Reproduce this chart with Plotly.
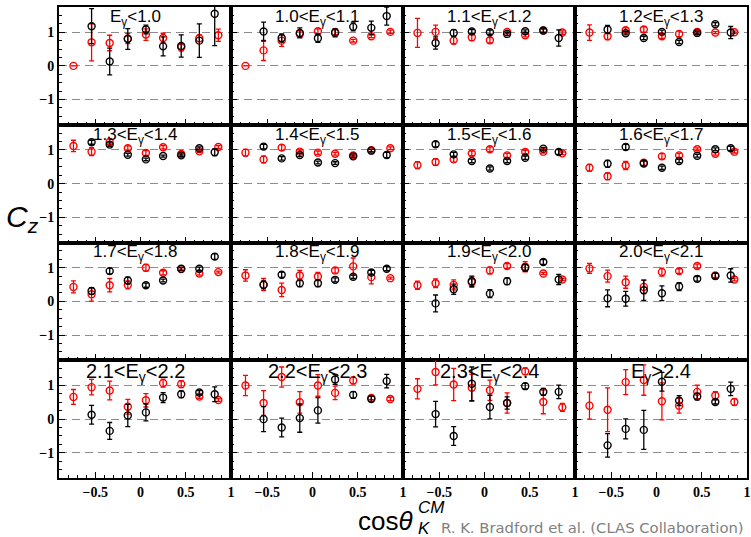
import plotly.graph_objects as go

# ---------------- data ----------------
energy_labels = ["E<sub>γ</sub><1.0", "1.0<E<sub>γ</sub><1.1", "1.1<E<sub>γ</sub><1.2", "1.2<E<sub>γ</sub><1.3",
                 "1.3<E<sub>γ</sub><1.4", "1.4<E<sub>γ</sub><1.5", "1.5<E<sub>γ</sub><1.6", "1.6<E<sub>γ</sub><1.7",
                 "1.7<E<sub>γ</sub><1.8", "1.8<E<sub>γ</sub><1.9", "1.9<E<sub>γ</sub><2.0", "2.0<E<sub>γ</sub><2.1",
                 "2.1<E<sub>γ</sub><2.2", "2.2<E<sub>γ</sub><2.3", "2.3<E<sub>γ</sub><2.4", "E<sub>γ</sub>>2.4"]

cos_red = [-0.74, -0.54, -0.34, -0.14, 0.06, 0.25, 0.45, 0.65, 0.86]
cos_black = [-0.54, -0.34, -0.14, 0.06, 0.25, 0.45, 0.65, 0.82]

red_cz = [
    [0.00, 0.70, 0.68, 0.81, 0.93, 0.83, 0.55, 0.82, 0.91],
    [0.00, 0.46, 0.75, 0.95, 1.03, 1.01, 0.75, 0.88, 1.01],
    [0.98, 1.01, 0.75, 0.85, 0.76, 1.01, 0.91, 1.05, 0.99],
    [0.99, 0.88, 1.06, 1.08, 0.88, 0.95, 1.01, 0.99, 1.00],
    [1.12, 0.95, 1.24, 1.05, 0.91, 1.08, 0.88, 0.96, 1.09],
    [0.92, 0.72, 1.07, 0.95, 0.92, 0.89, 0.84, 0.99, 1.05],
    [0.55, 0.64, 0.72, 0.90, 1.02, 0.84, 0.94, 0.95, 0.90],
    [0.47, 0.22, 0.54, 0.62, 0.81, 0.84, 1.02, 0.89, 0.95],
    [0.43, 0.21, 0.48, 0.49, 1.00, 0.85, 0.96, 0.83, 0.87],
    [0.77, 0.50, 0.34, 0.77, 0.74, 0.92, 1.04, 0.72, 0.69],
    [0.48, 0.54, 0.49, 0.57, 0.92, 1.05, 1.03, 0.83, 0.65],
    [0.98, 0.75, 0.57, 0.43, 0.87, 0.90, 1.05, 0.77, 0.65],
    [0.66, 0.95, 0.85, 0.37, 0.56, 1.07, 1.04, 0.67, 0.57],
    [1.00, 0.48, 1.25, 0.50, 1.00, 0.78, 1.15, 0.63, 0.60],
    [0.90, 1.40, 1.03, 0.93, 0.86, 0.48, 1.42, 0.51, 0.35],
    [0.40, 0.28, 1.10, 1.16, 0.53, 0.40, 0.81, 0.70, 0.51],
]
red_err = [
    [0.00, 0.55, 0.23, 0.15, 0.17, 0.14, 0.10, 0.10, 0.18],
    [0.00, 0.30, 0.17, 0.10, 0.07, 0.08, 0.04, 0.04, 0.05],
    [0.43, 0.20, 0.10, 0.10, 0.08, 0.05, 0.05, 0.04, 0.05],
    [0.23, 0.10, 0.07, 0.08, 0.06, 0.08, 0.04, 0.03, 0.03],
    [0.17, 0.12, 0.08, 0.07, 0.07, 0.05, 0.05, 0.04, 0.04],
    [0.10, 0.10, 0.08, 0.05, 0.05, 0.04, 0.04, 0.04, 0.04],
    [0.10, 0.10, 0.08, 0.07, 0.07, 0.06, 0.05, 0.04, 0.04],
    [0.10, 0.10, 0.12, 0.08, 0.08, 0.06, 0.04, 0.04, 0.04],
    [0.18, 0.20, 0.20, 0.12, 0.10, 0.06, 0.04, 0.05, 0.03],
    [0.17, 0.18, 0.20, 0.15, 0.12, 0.08, 0.25, 0.20, 0.03],
    [0.12, 0.13, 0.15, 0.15, 0.10, 0.07, 0.15, 0.03, 0.03],
    [0.15, 0.18, 0.18, 0.20, 0.12, 0.07, 0.06, 0.06, 0.04],
    [0.22, 0.23, 0.28, 0.22, 0.20, 0.12, 0.10, 0.05, 0.04],
    [0.30, 0.37, 0.30, 0.32, 0.32, 0.20, 0.10, 0.05, 0.05],
    [0.30, 0.38, 0.48, 0.40, 0.30, 0.30, 0.10, 0.35, 0.12],
    [0.40, 0.65, 0.37, 0.45, 0.55, 0.22, 0.20, 0.12, 0.10],
]

black_cz = [
    [1.18, 0.13, 0.80, 1.08, 0.58, 0.59, 0.75, 1.55],
    [1.02, 0.83, 0.98, 0.82, 0.98, 1.16, 1.13, 1.48],
    [0.68, 0.98, 1.02, 1.00, 0.95, 1.03, 1.05, 0.83],
    [1.08, 0.97, 0.83, 1.01, 0.71, 0.98, 1.24, 0.99],
    [1.23, 1.16, 0.86, 0.72, 0.82, 0.84, 1.05, 0.93],
    [1.10, 0.75, 0.85, 0.63, 0.61, 0.81, 0.98, 0.85],
    [1.17, 0.87, 0.67, 0.45, 0.67, 0.77, 1.04, 0.94],
    [0.59, 1.09, 0.60, 0.47, 0.67, 0.83, 1.02, 1.05],
    [0.31, 0.90, 0.62, 0.48, 0.62, 0.97, 0.97, 1.33],
    [0.49, 0.79, 0.54, 0.54, 0.64, 0.73, 0.86, 0.97],
    [-0.06, 0.36, 0.60, 0.23, 0.60, 1.00, 1.17, 0.65],
    [0.09, 0.08, 0.33, 0.24, 0.44, 0.67, 0.75, 0.77],
    [0.13, -0.35, 0.11, 0.20, 0.64, 0.74, 0.79, 0.74],
    [0.00, -0.25, 0.03, 0.26, 1.18, 0.72, 0.60, 1.13],
    [0.15, -0.50, 1.05, 0.36, 0.48, 0.98, 0.81, 0.81],
    [-0.78, -0.29, -0.32, 1.11, 0.55, 0.67, 0.51, 0.90],
]
black_err = [
    [0.52, 0.40, 0.31, 0.13, 0.28, 0.33, 0.50, 0.95],
    [0.28, 0.12, 0.15, 0.12, 0.12, 0.12, 0.20, 0.27],
    [0.18, 0.10, 0.06, 0.06, 0.05, 0.04, 0.06, 0.24],
    [0.12, 0.05, 0.05, 0.05, 0.05, 0.04, 0.05, 0.18],
    [0.06, 0.05, 0.04, 0.04, 0.03, 0.04, 0.04, 0.10],
    [0.07, 0.05, 0.05, 0.04, 0.04, 0.04, 0.04, 0.08],
    [0.08, 0.06, 0.05, 0.05, 0.05, 0.05, 0.04, 0.07],
    [0.10, 0.08, 0.07, 0.05, 0.05, 0.04, 0.04, 0.06],
    [0.10, 0.08, 0.10, 0.06, 0.04, 0.04, 0.05, 0.08],
    [0.12, 0.08, 0.10, 0.10, 0.06, 0.05, 0.06, 0.06],
    [0.25, 0.15, 0.15, 0.12, 0.10, 0.10, 0.07, 0.15],
    [0.25, 0.22, 0.30, 0.22, 0.12, 0.07, 0.08, 0.20],
    [0.28, 0.25, 0.33, 0.25, 0.15, 0.10, 0.06, 0.22],
    [0.37, 0.28, 0.42, 0.38, 0.15, 0.10, 0.08, 0.20],
    [0.38, 0.28, 0.50, 0.35, 0.18, 0.08, 0.10, 0.20],
    [0.35, 0.30, 0.58, 0.28, 0.15, 0.10, 0.06, 0.20],
]

x_tickvals = [-0.5, 0, 0.5, 1]
x_ticktext = ["\u22120.5", "0", "0.5", "1"]
y_tickvals = [-1, 0, 1]
y_ticktext = ["\u22121", "0", "1"]

# ---------------- layout geometry ----------------
W, H = 751, 537
L, R, T, B = 59, 0, 7, 59
PW = W - L - R
PH = H - T - B
XR = [-0.9, 1.0]
YR = [-1.75, 1.75]

fig = go.Figure()
tick_font = dict(family="Liberation Serif", size=14, color="black", weight="bold")

for i in range(16):
    r, c = divmod(i, 4)
    xa = "x" if i == 0 else f"x{i+1}"
    ya = "y" if i == 0 else f"y{i+1}"
    xkey = "xaxis" if i == 0 else f"xaxis{i+1}"
    ykey = "yaxis" if i == 0 else f"yaxis{i+1}"

    fig.add_trace(go.Scatter(
        x=cos_red, y=red_cz[i], xaxis=xa, yaxis=ya, mode="markers",
        marker=dict(symbol="circle-open", size=7, color="red", line=dict(width=1.4, color="red")),
        error_y=dict(type="data", array=red_err[i], color="red", thickness=1.3, width=2.5),
        showlegend=False, hoverinfo="skip"))
    fig.add_trace(go.Scatter(
        x=cos_black, y=black_cz[i], xaxis=xa, yaxis=ya, mode="markers",
        marker=dict(symbol="circle-open", size=7, color="black", line=dict(width=1.4, color="black")),
        error_y=dict(type="data", array=black_err[i], color="black", thickness=1.3, width=2.5),
        showlegend=False, hoverinfo="skip"))

    fig.layout[xkey] = dict(
        domain=[c / 4, (c + 1) / 4], anchor=ya, range=XR,
        tickmode="array", tickvals=x_tickvals, ticktext=x_ticktext,
        showticklabels=(r == 3), tickfont=tick_font,
        ticks="inside", ticklen=6, tickwidth=1.2, tickcolor="black",
        minor=dict(tickmode="linear", tick0=0, dtick=0.1, ticks="inside", ticklen=3,
                   tickwidth=1, tickcolor="black", showgrid=False),
        showgrid=False, zeroline=False,
        showline=True, mirror=True, linecolor="black", linewidth=1.7)
    fig.layout[ykey] = dict(
        domain=[1 - (r + 1) / 4, 1 - r / 4], anchor=xa, range=YR,
        tickmode="array", tickvals=y_tickvals, ticktext=y_ticktext,
        showticklabels=(c == 0), tickfont=tick_font,
        ticks="inside", ticklen=6, tickwidth=1.2, tickcolor="black",
        minor=dict(tickmode="linear", tick0=0, dtick=0.25, ticks="inside", ticklen=3,
                   tickwidth=1, tickcolor="black", showgrid=False),
        showgrid=True, gridcolor="#8c8c8c", gridwidth=1.3, griddash="8px,5px",
        zeroline=False,
        showline=True, mirror=True, linecolor="black", linewidth=1.7)

    fs = 20 if r == 3 else 17
    fig.add_annotation(
        text=energy_labels[i], xref=xa, yref=ya,
        x=(-0.06 if c == 0 else 0.05), y=(1.40 if r == 3 else 1.43),
        xanchor="center", yanchor="middle", showarrow=False,
        font=dict(family="Liberation Sans", size=fs, color="black"))

def px_x(p):
    return (p - L) / PW

def px_y(p):
    return (H - B - p) / PH

# y-axis title
fig.add_annotation(text="<i>C<sub>z</sub></i>", xref="paper", yref="paper",
                   x=px_x(22), y=px_y(218), xanchor="center", yanchor="middle",
                   showarrow=False, font=dict(family="Liberation Sans", size=30, color="black"))
# x-axis title
fig.add_annotation(text="cos<i>θ</i>", xref="paper", yref="paper",
                   x=px_x(417), y=px_y(521), xanchor="right", yanchor="middle",
                   showarrow=False, font=dict(family="Liberation Sans", size=26, color="black"))
fig.add_annotation(text="<i>CM</i>", xref="paper", yref="paper",
                   x=px_x(418), y=px_y(507), xanchor="left", yanchor="middle",
                   showarrow=False, font=dict(family="Liberation Sans", size=17, color="black"))
fig.add_annotation(text="<i>K</i>", xref="paper", yref="paper",
                   x=px_x(418), y=px_y(528), xanchor="left", yanchor="middle",
                   showarrow=False, font=dict(family="Liberation Sans", size=17, color="black"))
# credit
fig.add_annotation(text="R. K. Bradford et al. (CLAS Collaboration)", xref="paper", yref="paper",
                   x=px_x(750), y=px_y(527), xanchor="right", yanchor="middle",
                   showarrow=False, font=dict(family="DejaVu Sans", size=14.8, color="#808080"))

fig.update_layout(width=W, height=H, margin=dict(l=L, r=R, t=T, b=B),
                  paper_bgcolor="white", plot_bgcolor="white")

fig.write_html("out.html")
